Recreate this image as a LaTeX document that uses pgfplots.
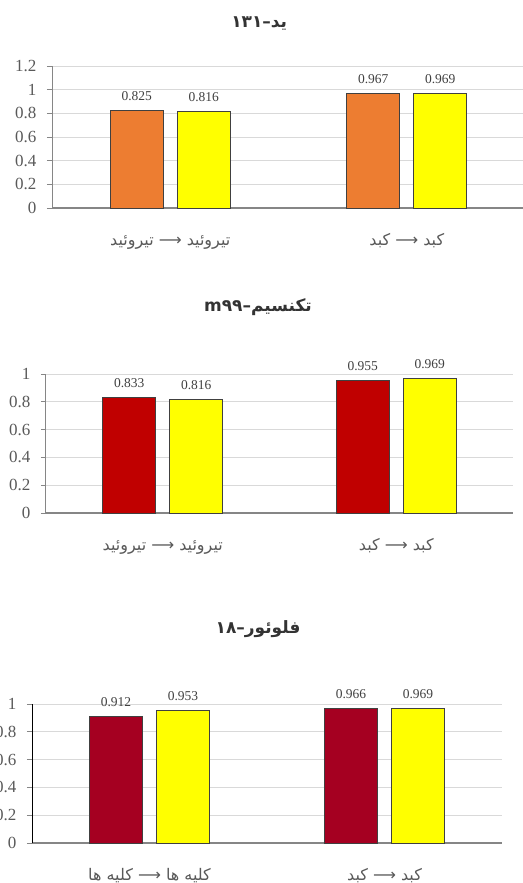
\documentclass[border=0pt]{standalone}
\usepackage{pgfplots}
\pgfplotsset{compat=1.18}
\usepackage{fontspec}
\setmainfont{Liberation Serif}
\newfontfamily\arabicfont[Script=Arabic]{DejaVu Sans}
\TeXXeTstate=1

\definecolor{barorange}{RGB}{237,125,49}
\definecolor{barred}{RGB}{192,0,0}
\definecolor{barcrimson}{RGB}{165,0,33}
\definecolor{baryellow}{RGB}{255,255,0}
\definecolor{baredge}{RGB}{64,64,64}
\definecolor{gridgray}{RGB}{217,217,217}
\definecolor{axisgray}{RGB}{134,134,134}
\definecolor{ticktext}{RGB}{89,89,89}

\pgfplotsset{
  chart/.style={
    scale only axis,
    anchor=south west,
    ybar=14pt,
    bar width=53pt,
    xmin=-0.5, xmax=1.5,
    ymin=0,
    axis x line*=bottom,
    axis y line*=left,
    axis line style={axisgray, line width=1pt},
    x axis line style={line width=1.6pt},
    ymajorgrids=true,
    grid style={gridgray, line width=0.8pt},
    tick align=outside,
    tick style={axisgray, line width=1pt},
    major tick length=5pt,
    xtick={0,1},
    x tick style={draw=none},
    extra x ticks={-0.5,0.5,1.5},
    extra x tick labels={},
    extra x tick style={grid=none, major tick length=6pt, tick style={axisgray, line width=1pt}},
    /pgf/number format/assume math mode=true,
    yticklabel style={font=\fontsize{17}{19}\selectfont, text=ticktext, xshift=-7pt},
    xticklabel style={font=\arabicfont\fontsize{16}{19}\selectfont, text=ticktext,
      text height=12pt, text depth=4pt, anchor=center, yshift=-28pt},
    title style={font=\arabicfont\bfseries\fontsize{17}{20}\selectfont, text=black!80, anchor=center},
    nodes near coords,
    every node near coord/.append style={font=\fontsize{13.5}{15}\selectfont, text=baredge,
      /pgf/number format/fixed, /pgf/number format/precision=3, yshift=6pt},
    every axis plot/.append style={draw=baredge, line width=1pt},
  }
}

\begin{document}
\begin{tikzpicture}
\path[use as bounding box] (0pt,0pt) rectangle (522pt,-883pt);

% ید-۱۳۱
\begin{axis}[chart,
  at={(52pt,-208pt)}, width=473pt, height=142pt,
  ymax=1.2, ytick={0,0.2,0.4,0.6,0.8,1,1.2},
  xticklabels={{\beginR تیروئید ⟶ تیروئید\endR},{\beginR کبد ⟶ کبد\endR}},
  title={\beginR ید–۱۳۱\endR},
  title style={at={(axis description cs:0.438,1.254)}},
]
\addplot[fill=barorange] coordinates {(0,0.825) (1,0.967)};
\addplot[fill=baryellow] coordinates {(0,0.816) (1,0.969)};
\end{axis}

% تکنسیم-m99
\begin{axis}[chart,
  at={(46pt,-513pt)}, width=467pt, height=139pt,
  ymax=1, ytick={0,0.2,0.4,0.6,0.8,1},
  xticklabels={{\beginR تیروئید ⟶ تیروئید\endR},{\beginR کبد ⟶ کبد\endR}},
  title={\beginR تکنسیم–\beginL m۹۹\endL\endR},
  title style={at={(axis description cs:0.454,1.438)}},
]
\addplot[fill=barred] coordinates {(0,0.833) (1,0.955)};
\addplot[fill=baryellow] coordinates {(0,0.816) (1,0.969)};
\end{axis}

% فلوئور-۱۸
\begin{axis}[chart,
  at={(32pt,-843pt)}, width=470pt, height=139pt,
  ymax=1, ytick={0,0.2,0.4,0.6,0.8,1},
  y axis line style={black},
  xticklabels={{\beginR کلیه ها ⟶ کلیه ها\endR},{\beginR کبد ⟶ کبد\endR}},
  title={\beginR فلوئور–\beginL ۱۸\endL\endR},
  title style={at={(axis description cs:0.481,1.496)}},
]
\addplot[fill=barcrimson] coordinates {(0,0.912) (1,0.966)};
\addplot[fill=baryellow] coordinates {(0,0.953) (1,0.969)};
\end{axis}
\end{tikzpicture}
\end{document}
